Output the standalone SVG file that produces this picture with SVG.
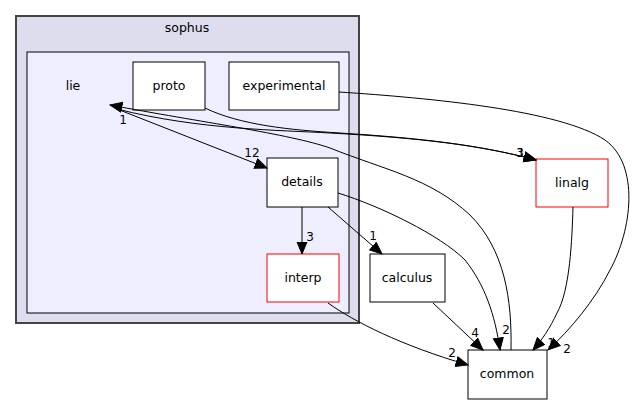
<svg xmlns="http://www.w3.org/2000/svg" width="636" height="404" viewBox="0 0 636 404">
<style>
text{font-family:"DejaVu Sans",sans-serif;font-size:12.5px;fill:#000}
.l{font-size:12px}
.n{fill:#fff;stroke:#000;stroke-width:1}
.r{fill:#fff;stroke:#ff0000;stroke-width:1}
.e{fill:none;stroke:#000;stroke-width:1;marker-end:url(#ah)}
.c{text-anchor:middle}
</style>
<defs>
<marker id="ah" markerWidth="14" markerHeight="12" refX="12.5" refY="5.5" orient="auto" markerUnits="userSpaceOnUse">
<path d="M0.5,0.5 L12.5,5.5 L0.5,10.5 z" fill="#000" stroke="#000" stroke-width="1"/>
</marker>
</defs>
<rect width="636" height="404" fill="#fff"/>
<g id="cluster-sophus">
<rect x="16" y="16" width="343" height="307" fill="#ddddee" stroke="#444" stroke-width="2"/>
<text x="187" y="32" class="c">sophus</text>
</g>
<g id="cluster-lie">
<rect x="27" y="52" width="322" height="261" fill="#eeeeff" stroke="#000" stroke-width="1"/>
<text x="73" y="90" class="c">lie</text>
</g>
<g id="node-proto"><rect class="n" x="133" y="62" width="72" height="48"/><text x="169" y="90" class="c">proto</text></g>
<g id="node-experimental"><rect class="n" x="229" y="62" width="110" height="48"/><text x="284" y="90" class="c">experimental</text></g>
<g id="node-details"><rect class="n" x="267" y="158" width="71" height="49"/><text x="302" y="186" class="c">details</text></g>
<g id="node-interp"><rect class="r" x="267" y="254" width="72" height="48"/><text x="303" y="282" class="c">interp</text></g>
<g id="node-calculus"><rect class="n" x="370" y="254" width="75" height="48"/><text x="407" y="282" class="c">calculus</text></g>
<g id="node-linalg"><rect class="r" x="536" y="159" width="72" height="48"/><text x="572" y="187" class="c">linalg</text></g>
<g id="node-common"><rect class="n" x="468" y="350" width="79" height="49"/><text x="507" y="378" class="c">common</text></g>
<g id="edges">
<path class="e" d="M117,109 L267,168"/>
<text x="252" y="157" class="c l">12</text>
<path class="e" d="M511,350 C512,300 505,250 470,215 C430,178 385,170 330,148 C290,134 200,122 110,105"/>
<text x="123" y="124" class="c l">1</text>
<path class="e" d="M117,109 C200,130 280,130 330,133 C420,138 480,145 536,160"/>
<path class="e" d="M205,108 C240,125 290,130 340,133 C420,138 480,145 536,160"/>
<text x="520" y="157" class="c l">3</text>
<text x="521" y="157" class="c l">1</text>
<path class="e" d="M339,92 C430,98 560,110 605,140 C640,165 632,230 610,270 C595,300 570,330 548,350"/>
<text x="567" y="353" class="c l">2</text>
<path class="e" d="M573,207 C572,240 570,290 557,313 C550,328 542,340 533,350"/>
<text x="551" y="347" class="c l">1</text>
<path class="e" d="M433,303 L483,350"/>
<text x="475" y="337" class="c l">4</text>
<path class="e" d="M328,303 C355,322 400,345 468,365"/>
<text x="452" y="357" class="c l">2</text>
<path class="e" d="M338,193 C380,206 440,235 465,260 C485,285 495,315 500,350"/>
<text x="506" y="334" class="c l">2</text>
<path class="e" d="M302,207 L302,254"/>
<text x="310" y="241" class="c l">3</text>
<path class="e" d="M328,207 L382,254"/>
<text x="373" y="240" class="c l">1</text>
</g>
</svg>
